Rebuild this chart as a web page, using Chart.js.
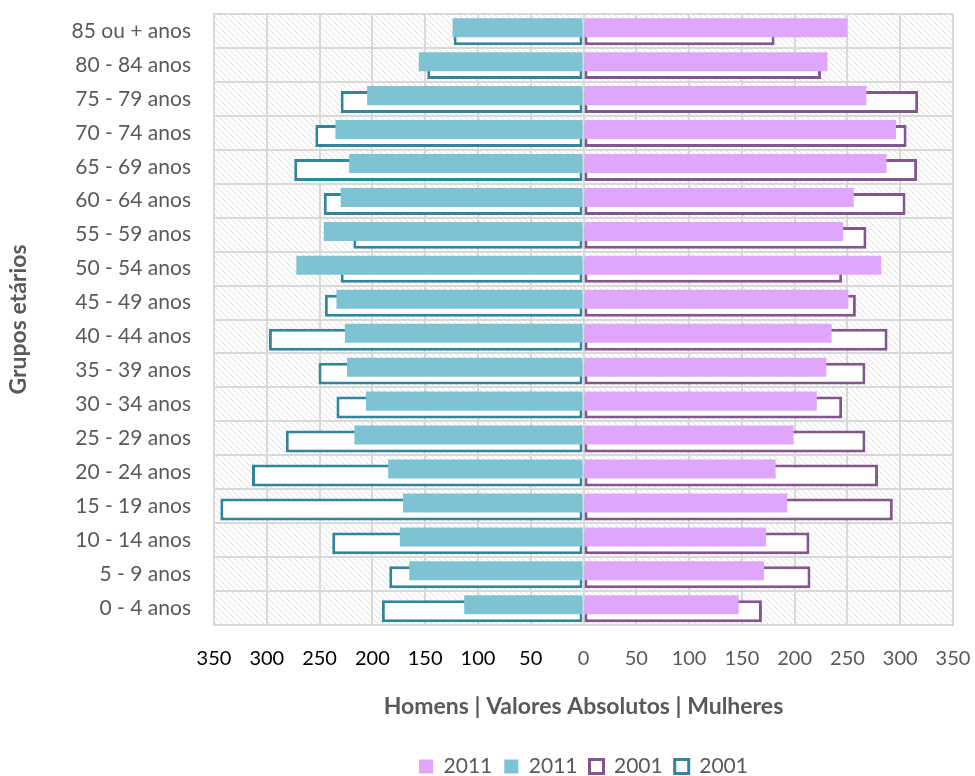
<!DOCTYPE html>
<html lang="pt">
<head>
<meta charset="UTF-8">
<title>Pirâmide etária</title>
<script src="https://cdn.jsdelivr.net/npm/chart.js"></script>
<style>
  html, body { margin: 0; padding: 0; background: #fff; }
  #wrap { width: 975px; height: 776px; }
</style>
</head>
<body>
<div id="wrap"><canvas id="chart" width="975" height="776"></canvas></div>
<script>
// categorias (de cima para baixo)
const grupos = ['85 ou + anos', '80 - 84 anos', '75 - 79 anos', '70 - 74 anos', '65 - 69 anos',
  '60 - 64 anos', '55 - 59 anos', '50 - 54 anos', '45 - 49 anos', '40 - 44 anos', '35 - 39 anos',
  '30 - 34 anos', '25 - 29 anos', '20 - 24 anos', '15 - 19 anos', '10 - 14 anos', '5 - 9 anos', '0 - 4 anos'];

const homens2011   = [124, 156, 205, 235, 222, 230, 246, 272, 234, 226, 224, 206, 217, 185, 171, 174, 165, 113];
const mulheres2011 = [250, 231, 268, 296, 287, 256, 246, 282, 251, 235, 230, 221, 199, 182, 193, 173, 171, 147];
const homens2001   = [123, 148, 230, 254, 274, 246, 218, 230, 245, 298, 251, 234, 282, 314, 344, 238, 184, 191];
const mulheres2001 = [181, 225, 317, 306, 316, 305, 268, 245, 258, 288, 267, 245, 267, 279, 293, 214, 215, 169];

const xTicks = [-350, -300, -250, -200, -150, -100, -50, 0, 50, 100, 150, 200, 250, 300, 350];

const FONT = 'Lato, "Open Sans", sans-serif';
const GREY = '#595959';
const GRID = '#D9D9D9';

// fundo tracejado da área do gráfico
function hatch() {
  const c = document.createElement('canvas');
  c.width = 6; c.height = 6;
  const g = c.getContext('2d');
  g.strokeStyle = '#DEDEDE';
  g.lineWidth = 1;
  g.beginPath();
  g.moveTo(-1, -1); g.lineTo(7, 7);
  g.moveTo(-1, 5); g.lineTo(1, 7);
  g.moveTo(5, -1); g.lineTo(7, 1);
  g.stroke();
  return g.createPattern(c, 'repeat');
}

const bgPlugin = {
  id: 'bg',
  beforeDraw(chart) {
    const {ctx, chartArea: a} = chart;
    ctx.save();
    ctx.fillStyle = hatch();
    ctx.fillRect(a.left, a.top, a.right - a.left, a.bottom - a.top);
    ctx.restore();
  }
};

new Chart(document.getElementById('chart'), {
  type: 'bar',
  data: {
    labels: grupos,
    datasets: [
      { label: '2011', data: mulheres2011, backgroundColor: '#DFA6FB', borderWidth: 0, stack: 's2011', barPercentage: 2.95 },
      { label: '2011', data: homens2011.map(v => -v), backgroundColor: '#7DC3D4', borderWidth: 0, stack: 's2011', barPercentage: 2.95 },
      { label: '2001', data: mulheres2001, backgroundColor: '#FFFFFF', borderColor: '#845690', borderWidth: 3, borderSkipped: false, stack: 's2001', barPercentage: 3.4 },
      { label: '2001', data: homens2001.map(v => -v), backgroundColor: '#FFFFFF', borderColor: '#31859C', borderWidth: 3, borderSkipped: false, stack: 's2001', barPercentage: 3.4 }
    ]
  },
  options: {
    indexAxis: 'y',
    responsive: false,
    animation: false,
    layout: { padding: { left: 0, right: 22, top: 14, bottom: -11 } },
    datasets: { bar: { categoryPercentage: 0.38 } },
    scales: {
      x: {
        min: -350, max: 350,
        afterBuildTicks(s) { s.ticks = xTicks.map(v => ({ value: v })); },
        afterFit(s) { s.height = 119; },
        grid: { color: GRID, lineWidth: 2, drawTicks: true, tickLength: 22, tickColor: 'rgba(0,0,0,0)' },
        border: { color: GRID, width: 2 },
        ticks: {
          padding: 0,
          font: { family: FONT, size: 20 },
          color: c => (c.tick && c.tick.value < 0 ? '#000000' : GREY),
          callback: v => Math.abs(v)
        },
        title: {
          display: true,
          text: 'Homens | Valores Absolutos | Mulheres',
          font: { family: FONT, size: 23, weight: 'bold' },
          color: GREY,
          padding: { top: 0, bottom: 24 }
        }
      },
      y: {
        stacked: true,
        afterFit(s) { s.width = 214; },
        grid: { color: GRID, lineWidth: 2, drawTicks: true, tickLength: 23, tickColor: 'rgba(0,0,0,0)', offset: true },
        border: { color: GRID, width: 2 },
        ticks: { padding: 0, font: { family: FONT, size: 21 }, color: GREY },
        title: {
          display: true,
          text: 'Grupos etários',
          font: { family: FONT, size: 23, weight: 'bold' },
          color: GREY,
          padding: { top: 5, bottom: 0 }
        }
      }
    },
    plugins: {
      legend: {
        position: 'bottom',
        fullSize: false,
        labels: {
          font: { family: FONT, size: 21 },
          color: GREY,
          boxWidth: 14, boxHeight: 14,
          padding: 12
        }
      },
      tooltip: { enabled: false }
    }
  },
  plugins: [bgPlugin]
});
</script>
</body>
</html>
